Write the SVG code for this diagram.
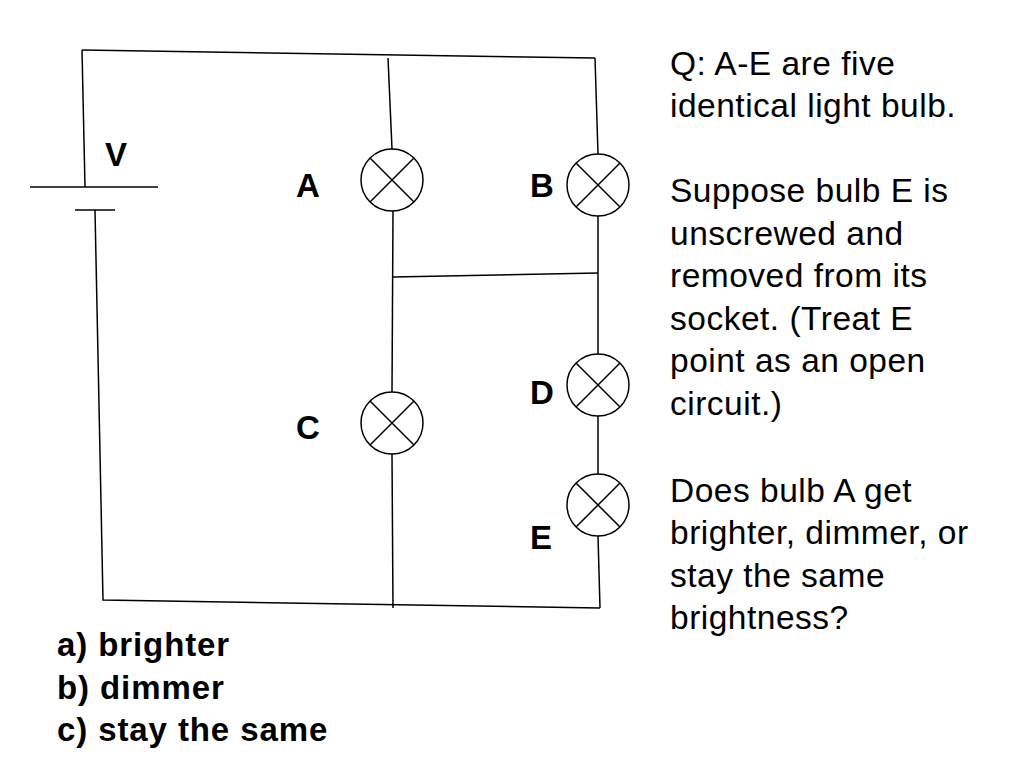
<svg xmlns="http://www.w3.org/2000/svg" width="1024" height="765" viewBox="0 0 1024 765">
<style>
.w{stroke:#000;stroke-width:1.5;fill:none}
.lb{font-family:"Liberation Sans",Arial,sans-serif;font-size:33px;font-weight:bold}
.t{font-family:"Liberation Sans",Arial,sans-serif;font-size:33.5px;letter-spacing:0.5px}
.a{font-family:"Liberation Sans",Arial,sans-serif;font-size:33px;font-weight:bold;letter-spacing:0.9px}
</style>
<defs>
<g id="bulb"><circle r="31" class="w"/><path d="M-22,-22L22,22M-22,22L22,-22" class="w"/></g>
</defs>
<rect width="1024" height="765" fill="#fff"/>
<g id="connectors">
<path class="w" d="M82,50L595,58"/>
<path class="w" d="M82,50L85,187"/>
<path class="w" d="M30,187L158,187"/>
<path class="w" d="M75,210L115,210"/>
<path class="w" d="M95,210L103,600L600,608"/>
<path class="w" d="M388,58L392,149"/>
<path class="w" d="M393,211L392,392"/>
<path class="w" d="M392,454L393,608"/>
<path class="w" d="M393,277L598,273"/>
<path class="w" d="M595,58L598,154"/>
<path class="w" d="M598,216L598,354"/>
<path class="w" d="M598,416L598,474"/>
<path class="w" d="M598,536L600,608"/>
</g>
<g id="V"><text class="lb" x="105" y="166" font-size="26">V</text></g>
<g id="A"><use href="#bulb" x="392" y="180"/><text class="lb" x="296" y="197">A</text></g>
<g id="B"><use href="#bulb" x="598" y="185"/><text class="lb" x="530" y="197">B</text></g>
<g id="C"><use href="#bulb" x="392" y="423"/><text class="lb" x="296" y="439">C</text></g>
<g id="D"><use href="#bulb" x="598" y="385"/><text class="lb" x="530" y="404">D</text></g>
<g id="E"><use href="#bulb" x="598" y="505"/><text class="lb" x="530" y="549">E</text></g>
<g id="question">
<text class="t" x="670" y="75">Q: A-E are five</text>
<text class="t" x="670" y="117">identical light bulb.</text>
<text class="t" x="670" y="202">Suppose bulb E is</text>
<text class="t" x="670" y="245">unscrewed and</text>
<text class="t" x="670" y="287">removed from its</text>
<text class="t" x="670" y="330">socket. (Treat E</text>
<text class="t" x="670" y="372">point as an open</text>
<text class="t" x="670" y="415">circuit.)</text>
<text class="t" x="670" y="502">Does bulb A get</text>
<text class="t" x="670" y="544">brighter, dimmer, or</text>
<text class="t" x="670" y="587">stay the same</text>
<text class="t" x="670" y="629">brightness?</text>
</g>
<g id="answers">
<text class="a" x="57" y="656">a) brighter</text>
<text class="a" x="57" y="699">b) dimmer</text>
<text class="a" x="57" y="741">c) stay the same</text>
</g>
</svg>
